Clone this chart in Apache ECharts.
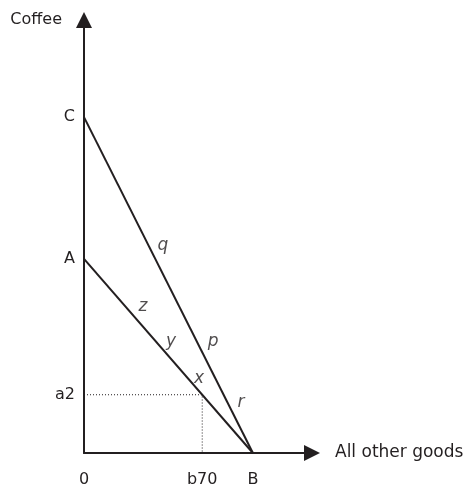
<!DOCTYPE html>
<html>
<head>
<meta charset="utf-8">
<script src="https://cdn.jsdelivr.net/npm/echarts@6/dist/echarts.min.js"></script>
<style>
  html, body { margin: 0; padding: 0; background: #fff; }
  #chart { width: 469px; height: 488px; }
</style>
</head>
<body>
<div id="chart"></div>
<script>
// budget lines: A-B and C-B
var lineAB = [[0, 100], [100, 0]];
var lineCB = [[0, 173], [100, 0]];
// chosen bundle and its dotted guides
var guide = [[0, 30], [70, 30], [70, 0]];
// tick labels on the axes
var xTicks = { 0: '0', 70: 'b70', 100: 'B' };
var yTicks = { 30: 'a2', 100: 'A', 173: 'C' };
// italic point letters along the lines
var pointNames = ['q', 'z', 'y', 'p', 'x', 'r'];
var pointPos = [[46.7, 107], [34.9, 75.3], [51.5, 57.4], [76.4, 57.4], [68.1, 38.4], [93, 26.1]];

var ink = '#231f20';
var fontFam = '"DejaVu Sans", "Noto Sans", sans-serif';

var chart = echarts.init(document.getElementById('chart'));

var option = {
  animation: false,
  grid: { left: 84, right: 157, top: 20, bottom: 33 },
  xAxis: {
    type: 'value',
    min: 0, max: 135, interval: 5,
    name: 'All other goods',
    nameLocation: 'end',
    nameGap: 23,
    nameTextStyle: { color: ink, fontSize: 17, fontFamily: fontFam, verticalAlign: 'middle' },
    axisLine: { lineStyle: { color: ink, width: 2 }, symbol: ['none', 'triangle'], symbolSize: [16, 16] },
    axisTick: { show: false },
    splitLine: { show: false },
    axisLabel: {
      margin: 19, color: ink, fontSize: 16, fontFamily: fontFam,
      formatter: function (v) { return xTicks[v] || ''; }
    }
  },
  yAxis: {
    type: 'value',
    min: 0, max: 223, interval: 1,
    name: 'Coffee',
    nameLocation: 'end',
    nameGap: 0,
    nameTextStyle: { color: ink, fontSize: 16, fontFamily: fontFam, align: 'right', verticalAlign: 'middle', padding: [0, 22, 0, 0] },
    axisLine: { lineStyle: { color: ink, width: 2 }, symbol: ['none', 'triangle'], symbolSize: [16, 16] },
    axisTick: { show: false },
    splitLine: { show: false },
    axisLabel: {
      margin: 9, color: ink, fontSize: 16, fontFamily: fontFam,
      formatter: function (v) { return yTicks[v] || ''; }
    }
  },
  series: [
    {
      type: 'line', data: lineAB, symbol: 'none',
      lineStyle: { color: ink, width: 2 }
    },
    {
      type: 'line', data: lineCB, symbol: 'none',
      lineStyle: { color: ink, width: 2 }
    },
    {
      type: 'line', data: guide, symbol: 'none',
      lineStyle: { color: ink, width: 1, type: [1, 2] }
    },
    {
      type: 'scatter', symbolSize: 0,
      data: pointPos.map(function (p, i) { return { value: p, name: pointNames[i] }; }),
      label: {
        show: true, position: 'inside', formatter: '{b}',
        color: ink, fontSize: 17, fontStyle: 'italic', fontFamily: fontFam
      }
    }
  ]
};

chart.setOption(option);
</script>
</body>
</html>
